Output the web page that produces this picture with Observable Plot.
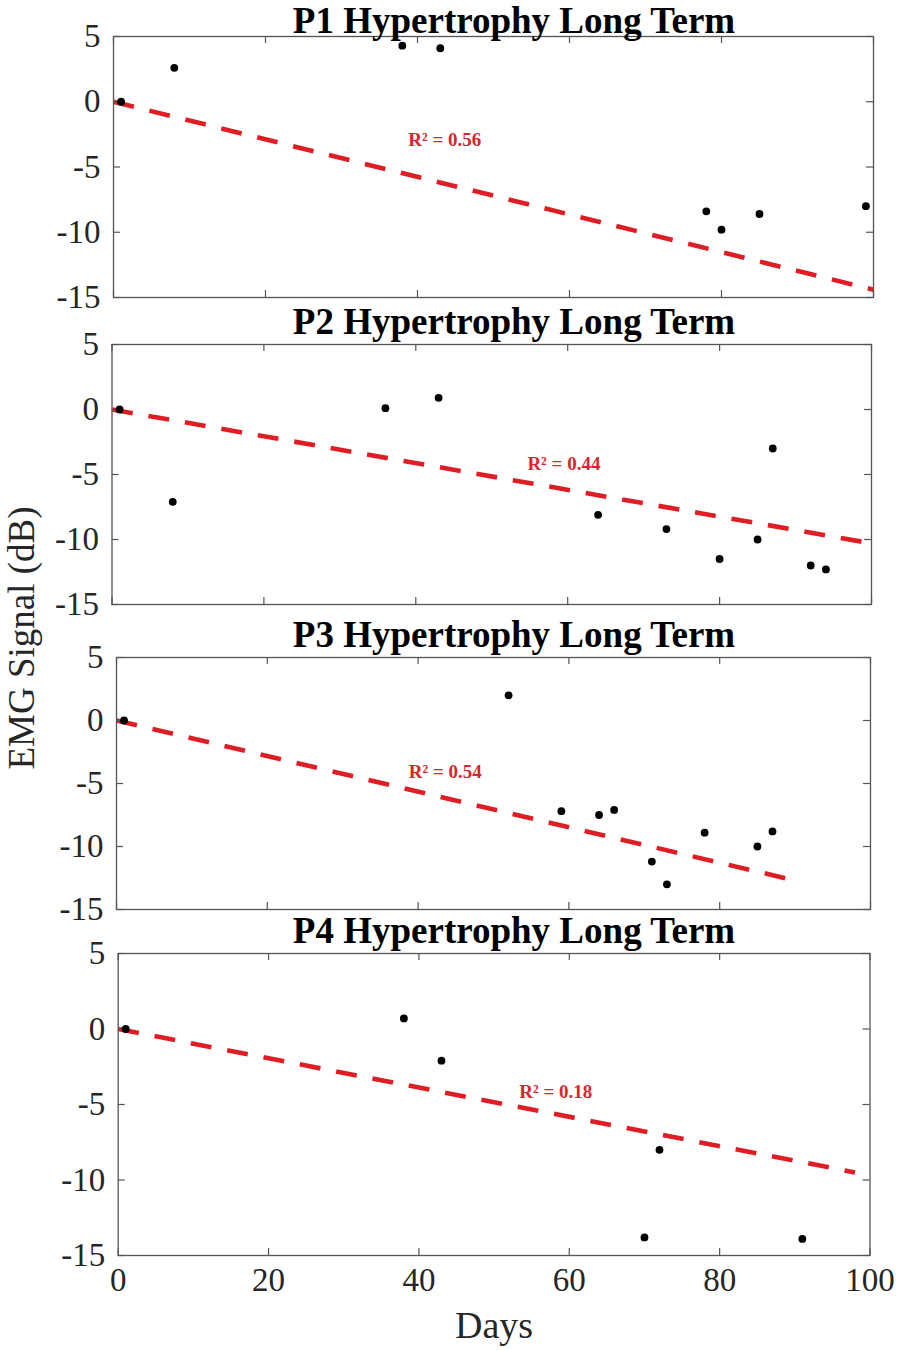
<!DOCTYPE html>
<html>
<head>
<meta charset="utf-8">
<script src="https://cdn.jsdelivr.net/npm/d3@7"></script>
<script src="https://cdn.jsdelivr.net/npm/@observablehq/plot@0.6"></script>
<style>
html, body { margin: 0; padding: 0; background: #fff; overflow: hidden; }
#root { position: relative; width: 899px; height: 1350px; font-family: 'Liberation Serif', 'Times New Roman', serif; background: #fff; }
.panel { position: absolute; left: 0; }
.panel svg { overflow: visible; }
.title { position: absolute; font-weight: bold; font-size: 37px; line-height: 0.8; white-space: nowrap; transform: translateX(-50%); color: #000; }
.ylab { position: absolute; font-size: 37px; line-height: 1; white-space: nowrap; color: #262626; transform: translate(-50%, -50%) rotate(-90deg); }
.xlab { position: absolute; font-size: 38px; line-height: 1; white-space: nowrap; color: #262626; transform: translateX(-50%); }
</style>
</head>
<body>
<div id="root"></div>
<script>
// ---- data ----
const titles = ["P1 Hypertrophy Long Term", "P2 Hypertrophy Long Term", "P3 Hypertrophy Long Term", "P4 Hypertrophy Long Term"];
const xTicks = [0, 20, 40, 60, 80, 100];
const yTicks = [5, 0, -5, -10, -15];
const xLabel = "Days";
const yLabel = "EMG Signal (dB)";

const p1Days = [1, 8, 38, 43, 78, 80, 85, 99];
const p1Emg  = [0, 2.6, 4.3, 4.1, -8.4, -9.8, -8.6, -8.0];

const p2Days = [1, 8, 36, 43, 64, 73, 80, 85, 87, 92, 94];
const p2Emg  = [0, -7.1, 0.1, 0.9, -8.1, -9.2, -11.5, -10.0, -3.0, -12.0, -12.3];

const p3Days = [1, 52, 59, 64, 66, 71, 73, 78, 85, 87];
const p3Emg  = [0, 2.0, -7.2, -7.5, -7.1, -11.2, -13.0, -8.9, -10.0, -8.8];

const p4Days = [1, 38, 43, 70, 72, 91];
const p4Emg  = [0, 0.7, -2.1, -13.8, -8.0, -13.9];

const trendDays = [[0, 100], [0, 100], [0, 90], [0, 98]];
const trendEmg  = [[0, -14.4], [0, -10.3], [0, -12.7], [0, -9.5]];

const r2Text = ["R\u00B2 = 0.56", "R\u00B2 = 0.44", "R\u00B2 = 0.54", "R\u00B2 = 0.18"];
const r2Days = [43.6, 59.5, 43.6, 58.2];
const r2Emg  = [-2.95, -4.15, -4.1, -4.17];

// ---- layout (pixel frames of each axes box) ----
const frames = [
  {l: 113,   r: 873,   t: 36,    b: 297,   tb: 33.2},
  {l: 111.5, r: 871,   t: 343.5, b: 603.5, tb: 334},
  {l: 116,   r: 870,   t: 657,   b: 909,   tb: 647},
  {l: 117.7, r: 869.5, t: 953,   b: 1255,  tb: 943}
];
const allDays = [p1Days, p2Days, p3Days, p4Days];
const allEmg = [p1Emg, p2Emg, p3Emg, p4Emg];

const W = 899;
const axisColor = "#555";
const textColor = "#262626";
const lineRed = "#df1d24";
const textRed = "#d8262c";
const root = document.getElementById("root");
const titleSize = 37;

frames.forEach((f, i) => {
  const pad = 24;
  const last = i === 3;
  const padBottom = last ? 70 : pad;
  const pw = f.r - f.l;
  const ph = f.b - f.t;
  const pts = allDays[i].map((d, j) => ({day: d, emg: allEmg[i][j]}));
  const trend = trendDays[i].map((d, j) => ({day: d, emg: trendEmg[i][j]}));
  const lab = [{day: r2Days[i], emg: r2Emg[i], t: r2Text[i]}];

  const marks = [
    Plot.line(trend, {x: "day", y: "emg", stroke: lineRed, strokeWidth: 4.6, strokeDasharray: "21,16", strokeLinecap: "butt"}),
    Plot.frame({stroke: axisColor, strokeWidth: 1.3}),
    Plot.tickY(yTicks, {y: d => d, stroke: axisColor, strokeWidth: 1.2, insetRight: pw - 7}),
    Plot.tickY(yTicks, {y: d => d, stroke: axisColor, strokeWidth: 1.2, insetLeft: pw - 7}),
    Plot.tickX(xTicks, {x: d => d, stroke: axisColor, strokeWidth: 1.2, insetTop: ph - 7}),
    Plot.tickX(xTicks, {x: d => d, stroke: axisColor, strokeWidth: 1.2, insetBottom: ph - 7}),
    Plot.axisY({ticks: yTicks, tickSize: 0, tickPadding: 13, fontSize: 33, fill: textColor, label: null, tickFormat: d => String(d)}),
    Plot.dot(pts, {x: "day", y: "emg", r: 3.9, fill: "#000", stroke: null}),
    Plot.text(lab, {x: "day", y: "emg", text: "t", fill: textRed, fontSize: 19, fontWeight: "bold", textAnchor: "middle", lineAnchor: "middle"})
  ];
  if (last) {
    marks.push(Plot.axisX({ticks: xTicks, tickSize: 0, tickPadding: 12, fontSize: 33, fill: textColor, label: null, tickFormat: d => String(d)}));
  }

  const chart = Plot.plot({
    width: W,
    height: ph + pad + padBottom,
    marginLeft: f.l,
    marginRight: W - f.r,
    marginTop: pad,
    marginBottom: padBottom,
    x: {domain: [0, 100], axis: last ? undefined : null},
    y: {domain: [-15, 5]},
    style: {fontFamily: "'Liberation Serif', 'Times New Roman', serif", background: "transparent", color: textColor, overflow: "visible"},
    marks
  });

  const div = document.createElement("div");
  div.className = "panel";
  div.style.top = (f.t - pad) + "px";
  div.appendChild(chart);
  root.appendChild(div);

  const t = document.createElement("div");
  t.className = "title";
  t.textContent = titles[i];
  t.style.left = "514px";
  t.style.top = (f.tb - 0.7375 * titleSize) + "px";
  root.appendChild(t);
});

const yl = document.createElement("div");
yl.className = "ylab";
yl.textContent = yLabel;
yl.style.left = "20.5px";
yl.style.top = "638px";
root.appendChild(yl);

const xl = document.createElement("div");
xl.className = "xlab";
xl.textContent = xLabel;
xl.style.left = "494px";
xl.style.top = (1338 - 0.84 * 38) + "px";
root.appendChild(xl);
</script>
</body>
</html>
